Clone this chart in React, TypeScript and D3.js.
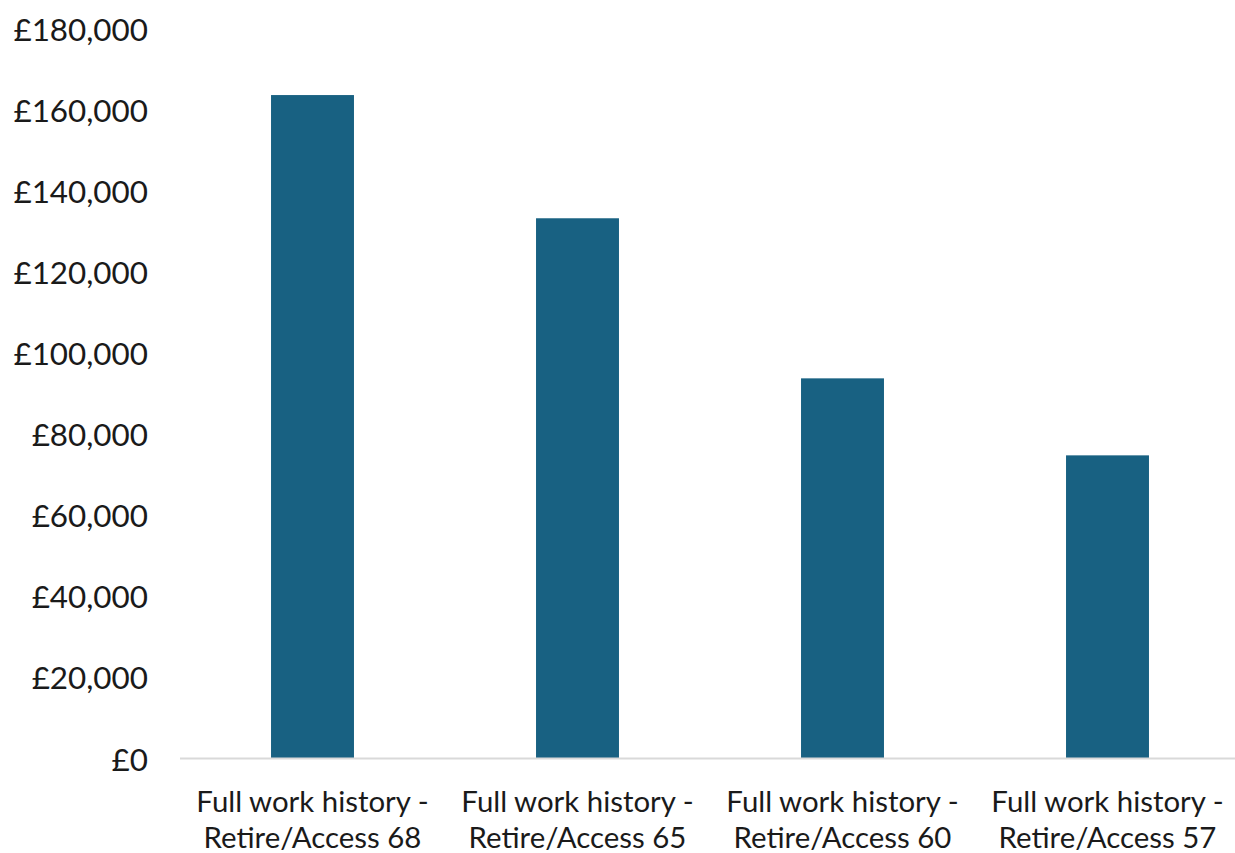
import React from "react";
import * as d3 from "d3";

const categories = [
  ["Full work history -", "Retire/Access 68"],
  ["Full work history -", "Retire/Access 65"],
  ["Full work history -", "Retire/Access 60"],
  ["Full work history -", "Retire/Access 57"],
];
const values = [163700, 133300, 93800, 74800];
const yTicks = [0, 20000, 40000, 60000, 80000, 100000, 120000, 140000, 160000, 180000];

const W = 1235;
const H = 853;
const FONT = "Lato, 'Open Sans', sans-serif";

export default function App() {
  const keys = categories.map((c) => c.join(" "));
  const x = d3
    .scaleBand<string>()
    .domain(keys)
    .range([180, 1240])
    .paddingInner(0.687)
    .paddingOuter(0.3435);
  const y = d3.scaleLinear().domain([0, 180000]).range([758.5, 29]);
  const fmt = (v: number) => "£" + d3.format(",")(v);

  return (
    <svg
      width={W}
      height={H}
      style={{ position: "absolute", left: 0, top: 0, background: "#fff" }}
      fontFamily={FONT}
    >
      {yTicks.map((t) => (
        <text
          key={t}
          x={148}
          y={y(t)}
          textAnchor="end"
          dominantBaseline="central"
          fontSize={31.4}
          fill="#1a1a1a"
        >
          {fmt(t)}
        </text>
      ))}
      {values.map((v, i) => (
        <rect
          key={i}
          x={x(keys[i])}
          y={y(v)}
          width={x.bandwidth()}
          height={y(0) - y(v)}
          fill="#186182"
        />
      ))}
      <line x1={180} x2={1235} y1={y(0)} y2={y(0)} stroke="#d9d9d9" strokeWidth={2} />
      {categories.map((c, i) => {
        const cx = (x(keys[i]) as number) + x.bandwidth() / 2;
        return (
          <text key={i} textAnchor="middle" fontSize={29.4} fill="#1a1a1a">
            {c.map((line, j) => (
              <tspan key={j} x={cx} y={812 + j * 36}>
                {line}
              </tspan>
            ))}
          </text>
        );
      })}
    </svg>
  );
}
